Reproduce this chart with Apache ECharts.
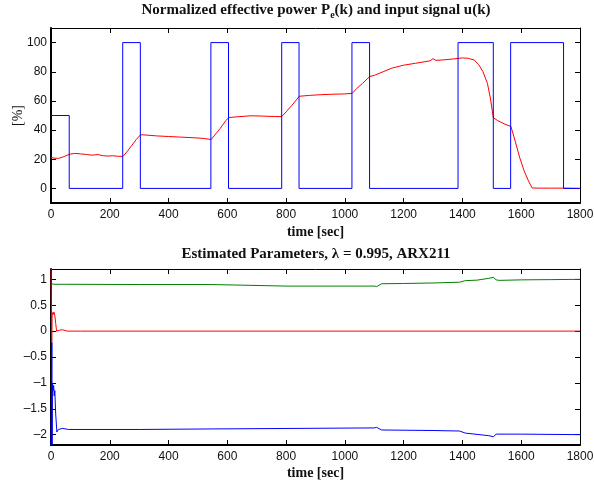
<!DOCTYPE html>
<html><head><meta charset="utf-8">
<script src="https://cdn.jsdelivr.net/npm/echarts@6/dist/echarts.min.js"></script>
<style>html,body{margin:0;padding:0;background:#fff}#c{width:594px;height:483px}</style>
</head><body><div id="c"></div>
<script>
// ---- data ----
var xTicks = [0,200,400,600,800,1000,1200,1400,1600,1800];
var topYTicks = [0,20,40,60,80,100];
var botYTicks = [-2,-1.5,-1,-0.5,0,0.5,1];

// input signal u(k) [%] (step, value holds until next time)
var uTime  = [0, 62, 244, 304, 544, 604, 785, 844, 1024, 1084, 1385, 1505, 1564, 1744, 1800];
var uValue = [50, 0, 100, 0, 100, 0, 100, 0, 100, 0, 100, 0, 100, 0, 0];

// normalized effective power Pe(k) [%]
var peTime  = [0,10,25,40,55,65,80,100,120,140,160,175,190,210,230,245,260,275,290,305,330,360,400,440,480,520,545,555,575,595,605,640,680,720,760,785,800,820,845,880,920,960,1000,1025,1040,1060,1085,1100,1130,1160,1200,1240,1270,1290,1300,1310,1340,1370,1400,1420,1440,1455,1470,1485,1495,1505,1520,1545,1565,1580,1595,1610,1625,1637,1660,1700,1745,1800];
var peValue = [21.2,20.8,20.6,21.5,22.8,23.5,24.0,23.7,23.3,22.8,23.2,22.5,22.2,22.4,22.0,22.0,25.5,29.5,33.5,36.8,36.5,36.0,35.6,35.2,34.8,34.3,33.5,36,41,46.5,48.6,49.2,49.8,49.6,49.3,49.2,52.5,57,63.2,63.8,64.3,64.6,64.8,65.2,68.5,72,76.8,77.5,80,82.5,84.5,85.8,86.8,87.5,89,87.8,88.2,88.8,89.5,89.2,88,85,80,72,62,48.5,46.5,44,42.5,32,21,12,5,0.3,0.2,0.2,0.2,0];

// estimated parameters
var greenTime  = [0,3,10,50,300,545,550,800,1000,1100,1108,1125,1200,1300,1390,1410,1450,1490,1505,1515,1525,1600,1700,1800];
var greenValue = [0.92,0.91,0.905,0.905,0.9,0.9,0.875,0.87,0.87,0.87,0.86,0.915,0.92,0.93,0.945,0.975,0.985,1.02,1.04,0.99,0.98,0.99,0.995,1.0];

var redTime  = [0,2,2.5,4,7,10,13,16,19,23,30,40,55,100,1800];
var redValue = [1.2,1.2,-0.22,0.36,0.32,0.37,0.3,0.15,0.0,-0.03,0.02,0.025,0.0,0.0,0.0];

var blueTime  = [0,2.5,3,3.8,5,7,9,11,13,16,20,25,30,40,60,300,545,550,1100,1108,1125,1300,1390,1410,1490,1505,1515,1600,1800];
var blueValue = [-2.2,-2.2,-0.22,-2.2,-1.0,-1.15,-1.05,-1.25,-1.15,-1.6,-1.95,-1.9,-1.87,-1.88,-1.9,-1.9,-1.89,-1.87,-1.87,-1.86,-1.91,-1.92,-1.93,-1.97,-2.02,-2.04,-1.99,-1.99,-2.0];

function pairs(t, v){ return t.map(function(x,i){ return [x, v[i]]; }); }

var chart = echarts.init(document.getElementById('c'), null, {renderer:'canvas'});
var labelFont = {fontFamily:'Liberation Sans', fontSize:12, color:'#111'};
var serifBold = {fontFamily:'Liberation Serif', fontSize:14, fontWeight:'bold', color:'#111'};

function xAx(grid, main, gap){
  return {
    type:'value', gridIndex:grid, min:0, max:1800, interval:200,
    position: main ? 'bottom' : 'top',
    axisLine:{show:true, onZero:false, lineStyle:{color:'#000', width: main?2:1}},
    axisTick:{show:true, inside:true, length:5, customValues:xTicks, lineStyle:{color:'#000', width:1}},
    axisLabel: main ? Object.assign({show:true, margin:6, customValues:xTicks,
      formatter:function(v){ return String(v); }}, labelFont) : {show:false},
    splitLine:{show:false},
    name: main ? 'time [sec]' : '', nameLocation:'middle', nameGap:gap || 24,
    nameTextStyle: serifBold
  };
}
function yAx(grid, main, min, max, ticks, name){
  return {
    type:'value', gridIndex:grid, min:min, max:max,
    position: main ? 'left' : 'right',
    axisLine:{show:true, onZero:false, lineStyle:{color:'#000', width: main?2:1}},
    axisTick:{show:true, inside:true, length:5, customValues:ticks, lineStyle:{color:'#000', width:1}},
    axisLabel: main ? Object.assign({show:true, margin:4, customValues:ticks,
      formatter:function(v){ return String(v).replace('-', '\u2013'); }}, labelFont) : {show:false},
    splitLine:{show:false},
    name: name || '', nameLocation:'middle', nameGap:26, nameMoveOverlap:false,
    nameTextStyle:{fontFamily:'Liberation Serif', fontSize:14, color:'#111'}
  };
}

var option = {
  animation:false,
  backgroundColor:'#fff',
  graphic:[
    {type:'text', x:316, y:10, z:10, style:{
      text:'{a|Normalized effective power P}{s|e}{a|(k) and input signal u(k)}',
      align:'center', verticalAlign:'middle',
      rich:{
        a:{fontFamily:'Liberation Serif', fontSize:15, fontWeight:'bold', fill:'#111', lineHeight:20, verticalAlign:'middle'},
        s:{fontFamily:'Liberation Serif', fontSize:10, fontWeight:'bold', fill:'#111', verticalAlign:'bottom'}
      }}},
    {type:'text', x:316, y:254, z:10, style:{
      text:'Estimated Parameters, \u03bb = 0.995, ARX211',
      align:'center', verticalAlign:'middle',
      font:'bold 15px "Liberation Serif"', fill:'#111'}}
  ],
  grid:[
    {left:51, top:28, width:529, height:175, outerBoundsMode:'none'},
    {left:51, top:269, width:529, height:176, outerBoundsMode:'none'}
  ],
  xAxis:[ xAx(0,true,22), xAx(0,false), xAx(1,true,21), xAx(1,false) ],
  yAxis:[
    yAx(0,true,-10,110,topYTicks,'[%]'), yAx(0,false,-10,110,topYTicks),
    yAx(1,true,-2.2,1.2,botYTicks), yAx(1,false,-2.2,1.2,botYTicks)
  ],
  series:[
    {type:'line', xAxisIndex:0, yAxisIndex:0, data:pairs(peTime,peValue), showSymbol:false,
     lineStyle:{color:'#ff0000', width:1}, itemStyle:{color:'#ff0000'}, z:2},
    {type:'line', xAxisIndex:0, yAxisIndex:0, data:pairs(uTime,uValue), step:'end', showSymbol:false,
     lineStyle:{color:'#0000ff', width:1}, itemStyle:{color:'#0000ff'}, z:3},
    {type:'line', xAxisIndex:2, yAxisIndex:2, data:pairs(greenTime,greenValue), showSymbol:false,
     lineStyle:{color:'#008000', width:1}, itemStyle:{color:'#008000'}},
    {type:'line', xAxisIndex:2, yAxisIndex:2, data:pairs(blueTime,blueValue), showSymbol:false,
     lineStyle:{color:'#0000ff', width:1}, itemStyle:{color:'#0000ff'}},
    {type:'line', xAxisIndex:2, yAxisIndex:2, data:pairs(redTime,redValue), showSymbol:false,
     lineStyle:{color:'#ff0000', width:1}, itemStyle:{color:'#ff0000'}}
  ]
};
chart.setOption(option);
</script>
</body></html>
